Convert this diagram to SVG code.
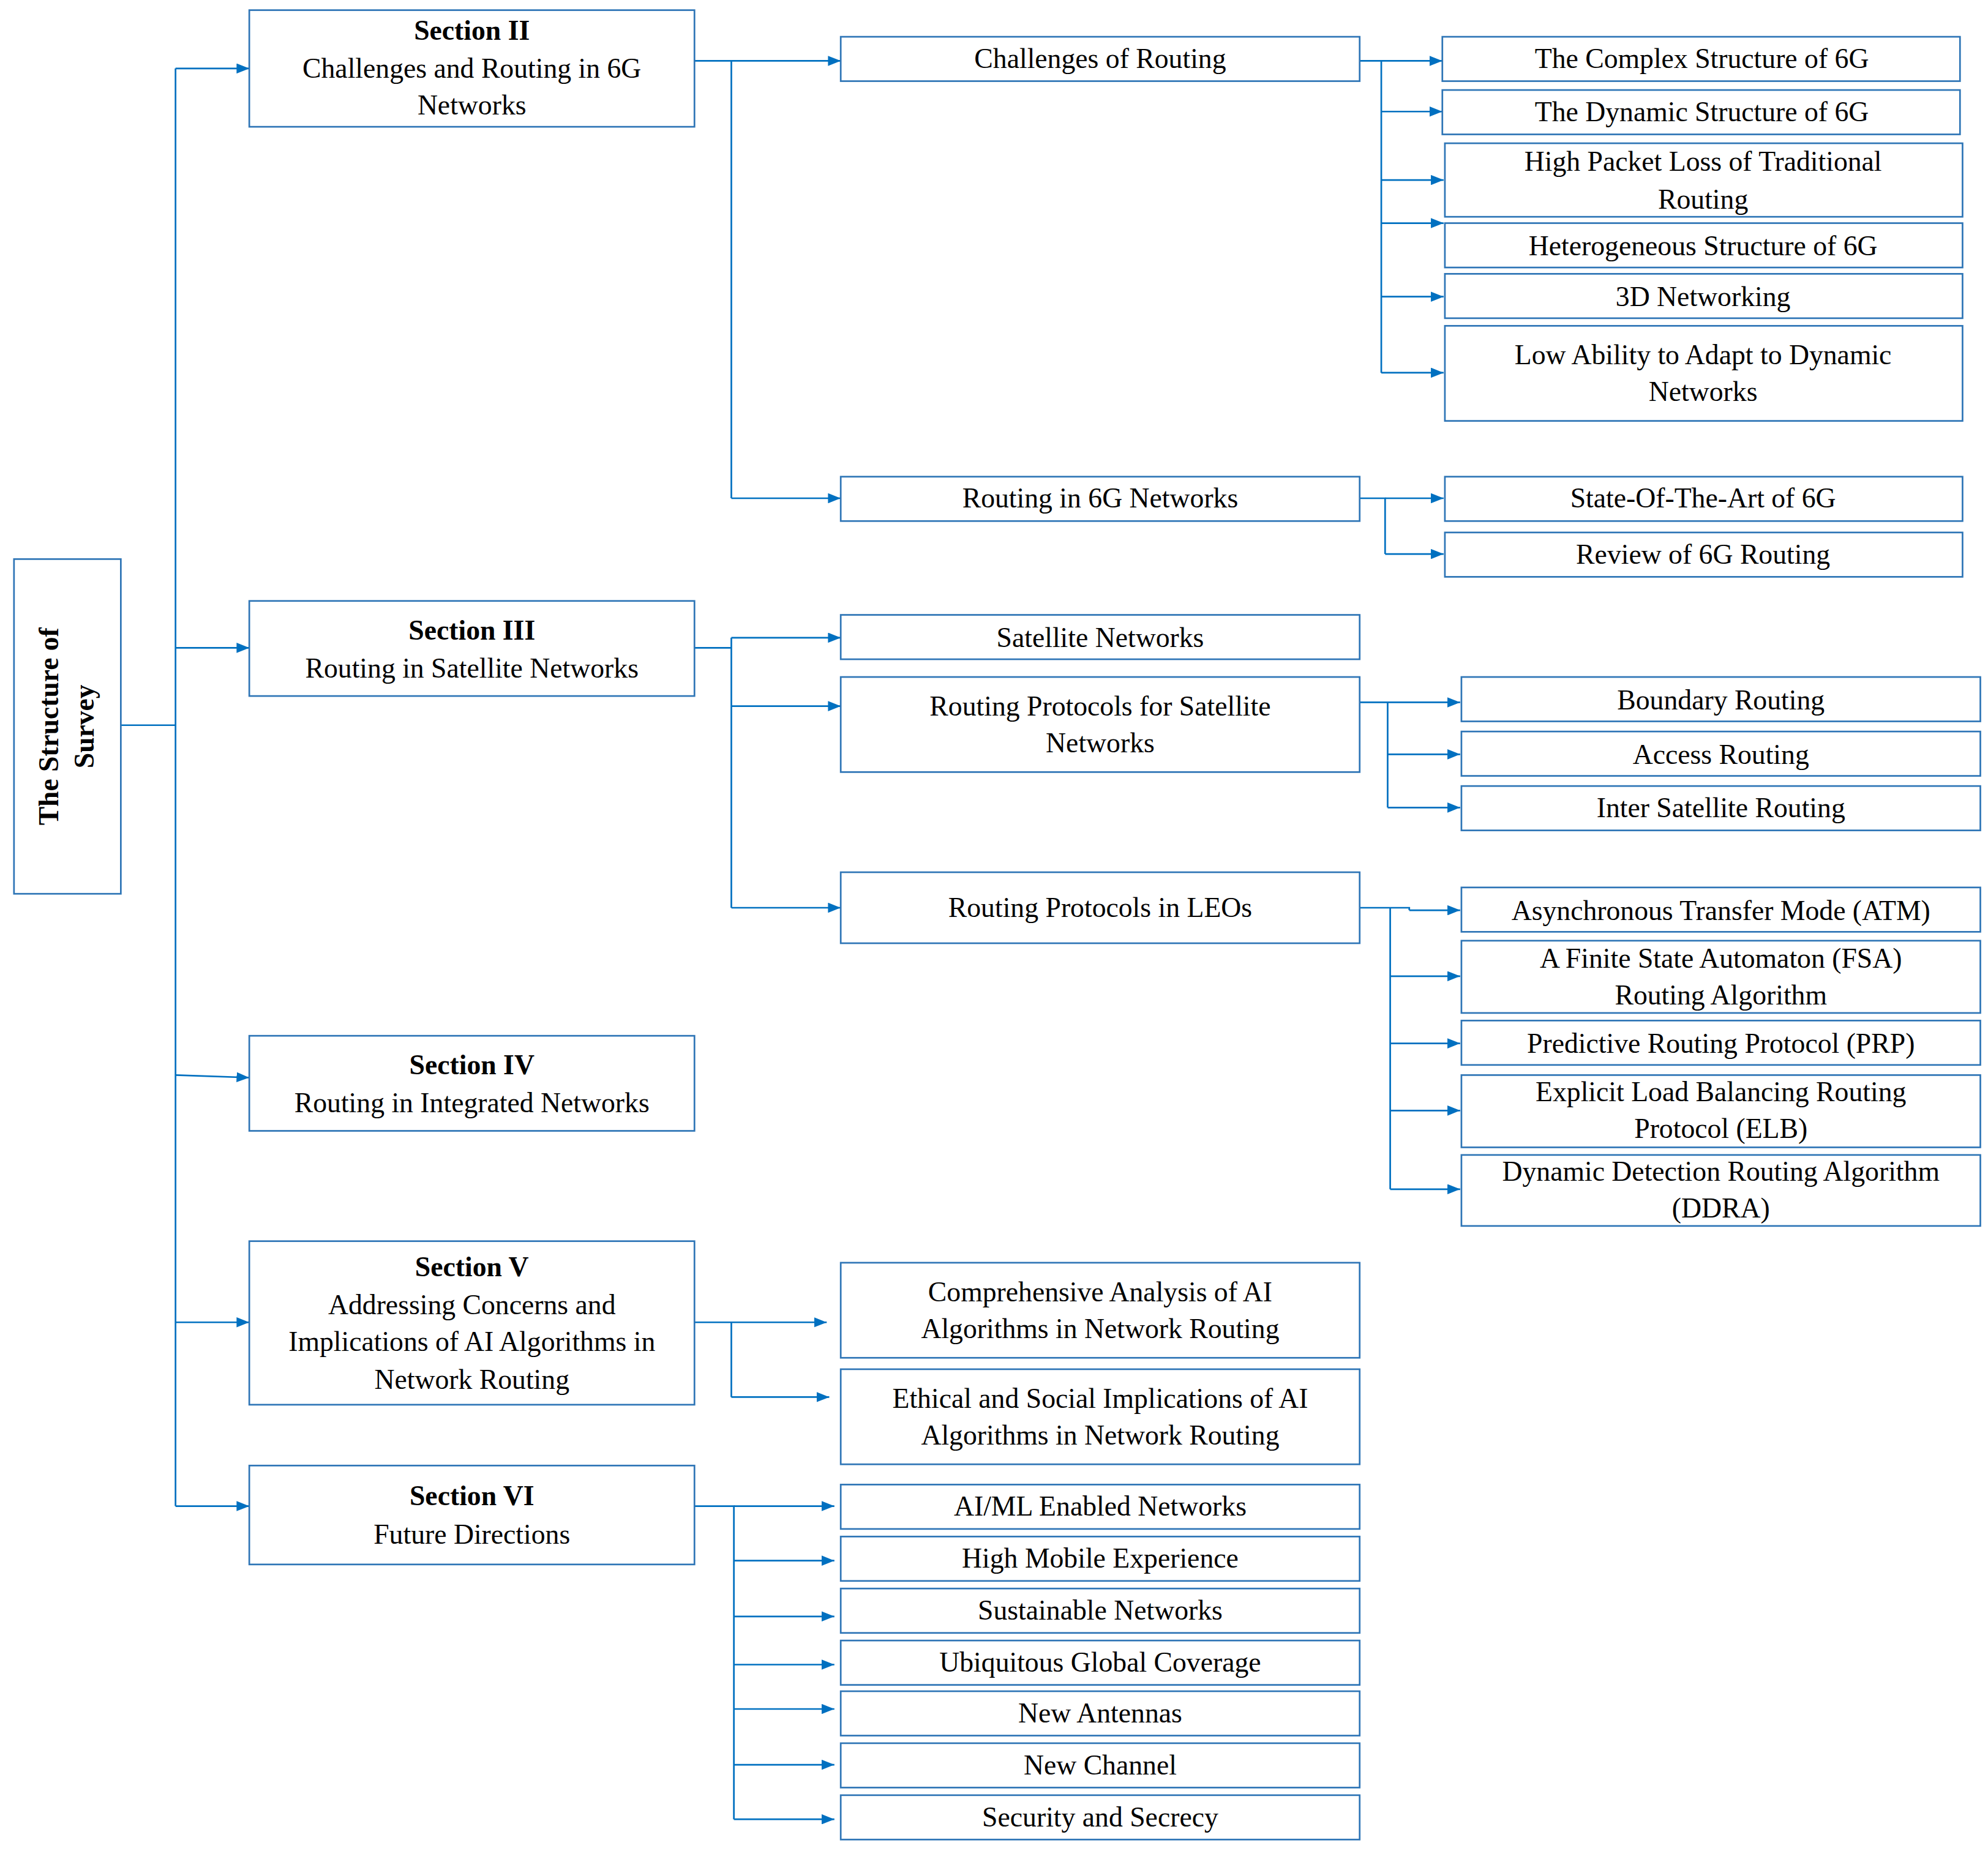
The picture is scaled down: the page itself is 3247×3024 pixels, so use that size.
<svg xmlns="http://www.w3.org/2000/svg" width="3247" height="3024" viewBox="0 0 3247 3024">
<style>
.b{fill:#fff;stroke:#2E75B6;stroke-width:1.3}
.c{fill:none;stroke:#0070C0;stroke-width:1.3}
.a{fill:none;stroke:#0070C0;stroke-width:1.3;marker-end:url(#m)}
text{font-family:"Liberation Serif","Times New Roman",serif;font-size:22px;fill:#000;text-anchor:middle;dominant-baseline:central}
.h{font-weight:bold}
</style>
<defs><marker id="m" markerWidth="10" markerHeight="8" refX="10" refY="4" orient="auto" markerUnits="userSpaceOnUse"><path d="M0,0 L10,4 L0,8 z" fill="#0070C0"/></marker></defs>
<rect width="3247" height="3024" fill="#fff"/>
<g transform="scale(2.0774,2.0712)">
<g id="connectors">
<path class="c" d="M95,572H138M138,54V1188"/>
<path class="a" d="M138,54H196"/><path class="a" d="M138,511H196"/><path class="a" d="M138,848L196,850"/><path class="a" d="M138,1043H196"/><path class="a" d="M138,1188H196"/>
<path class="c" d="M546,48H575V393"/><path class="a" d="M575,48H661"/><path class="a" d="M575,393H661"/>
<path class="c" d="M546,511H575M575,503V716"/><path class="a" d="M575,503H661"/><path class="a" d="M575,557H661"/><path class="a" d="M575,716H661"/>
<path class="c" d="M546,1043H575V1102"/><path class="a" d="M575,1043H650"/><path class="a" d="M575,1102H652"/>
<path class="c" d="M546,1188H577V1435"/>
<path class="a" d="M577,1188H656"/><path class="a" d="M577,1231H656"/><path class="a" d="M577,1275H656"/><path class="a" d="M577,1313H656"/><path class="a" d="M577,1348H656"/><path class="a" d="M577,1392H656"/><path class="a" d="M577,1435H656"/>
<path class="c" d="M1069,48H1086V294"/>
<path class="a" d="M1086,48H1134"/><path class="a" d="M1086,88H1134"/><path class="a" d="M1086,142H1135"/><path class="a" d="M1086,176H1135"/><path class="a" d="M1086,234H1135"/><path class="a" d="M1086,294H1135"/>
<path class="c" d="M1069,393H1089V437"/><path class="a" d="M1089,393H1135"/><path class="a" d="M1089,437H1135"/>
<path class="c" d="M1069,554H1091V637"/><path class="a" d="M1091,554H1148"/><path class="a" d="M1091,595H1148"/><path class="a" d="M1091,637H1148"/>
<path class="c" d="M1069,716H1108V718M1093,716V938"/><path class="a" d="M1108,718H1148"/>
<path class="a" d="M1093,770H1148"/><path class="a" d="M1093,823H1148"/><path class="a" d="M1093,876H1148"/><path class="a" d="M1093,938H1148"/>
</g>
<g id="root"><rect class="b" x="11" y="441" width="84" height="264"/>
<text class="h" transform="translate(52,573) rotate(-90)"><tspan x="0" y="-14">The Structure of</tspan><tspan x="0" y="14">Survey</tspan></text></g>
<g id="s2"><rect class="b" x="196" y="8" width="350" height="92"/><text class="h" x="371" y="24">Section II</text><text x="371" y="54">Challenges and Routing in 6G</text><text x="371" y="83">Networks</text></g>
<g id="s3"><rect class="b" x="196" y="474" width="350" height="75"/><text class="h" x="371" y="497">Section III</text><text x="371" y="527">Routing in Satellite Networks</text></g>
<g id="s4"><rect class="b" x="196" y="817" width="350" height="75"/><text class="h" x="371" y="840">Section IV</text><text x="371" y="870">Routing in Integrated Networks</text></g>
<g id="s5"><rect class="b" x="196" y="979" width="350" height="129"/><text class="h" x="371" y="999">Section V</text><text x="371" y="1029">Addressing Concerns and</text><text x="371" y="1058">Implications of AI Algorithms in</text><text x="371" y="1088">Network Routing</text></g>
<g id="s6"><rect class="b" x="196" y="1156" width="350" height="78"/><text class="h" x="371" y="1180">Section VI</text><text x="371" y="1210">Future Directions</text></g>
<g id="l2a"><rect class="b" x="661" y="29" width="408" height="35"/><text x="865" y="46">Challenges of Routing</text></g>
<g id="l2b"><rect class="b" x="661" y="376" width="408" height="35"/><text x="865" y="393">Routing in 6G Networks</text></g>
<g id="l2c"><rect class="b" x="661" y="485" width="408" height="35"/><text x="865" y="503">Satellite Networks</text></g>
<g id="l2d"><rect class="b" x="661" y="534" width="408" height="75"/><text x="865" y="557">Routing Protocols for Satellite</text><text x="865" y="586">Networks</text></g>
<g id="l2e"><rect class="b" x="661" y="688" width="408" height="56"/><text x="865" y="716">Routing Protocols in LEOs</text></g>
<g id="l2f"><rect class="b" x="661" y="996" width="408" height="75"/><text x="865" y="1019">Comprehensive Analysis of AI</text><text x="865" y="1048">Algorithms in Network Routing</text></g>
<g id="l2g"><rect class="b" x="661" y="1080" width="408" height="75"/><text x="865" y="1103">Ethical and Social Implications of AI</text><text x="865" y="1132">Algorithms in Network Routing</text></g>
<g id="f1"><rect class="b" x="661" y="1171" width="408" height="35"/><text x="865" y="1188">AI/ML Enabled Networks</text></g>
<g id="f2"><rect class="b" x="661" y="1212" width="408" height="35"/><text x="865" y="1229">High Mobile Experience</text></g>
<g id="f3"><rect class="b" x="661" y="1253" width="408" height="35"/><text x="865" y="1270">Sustainable Networks</text></g>
<g id="f4"><rect class="b" x="661" y="1294" width="408" height="35"/><text x="865" y="1311">Ubiquitous Global Coverage</text></g>
<g id="f5"><rect class="b" x="661" y="1334" width="408" height="35"/><text x="865" y="1351">New Antennas</text></g>
<g id="f6"><rect class="b" x="661" y="1375" width="408" height="35"/><text x="865" y="1392">New Channel</text></g>
<g id="f7"><rect class="b" x="661" y="1416" width="408" height="35"/><text x="865" y="1433">Security and Secrecy</text></g>
<g id="c1"><rect class="b" x="1134" y="29" width="407" height="35"/><text x="1338" y="46">The Complex Structure of 6G</text></g>
<g id="c2"><rect class="b" x="1134" y="71" width="407" height="35"/><text x="1338" y="88">The Dynamic Structure of 6G</text></g>
<g id="c3"><rect class="b" x="1136" y="113" width="407" height="58"/><text x="1339" y="127">High Packet Loss of Traditional</text><text x="1339" y="157">Routing</text></g>
<g id="c4"><rect class="b" x="1136" y="176" width="407" height="35"/><text x="1339" y="194">Heterogeneous Structure of 6G</text></g>
<g id="c5"><rect class="b" x="1136" y="216" width="407" height="35"/><text x="1339" y="234">3D Networking</text></g>
<g id="c6"><rect class="b" x="1136" y="257" width="407" height="75"/><text x="1339" y="280">Low Ability to Adapt to Dynamic</text><text x="1339" y="309">Networks</text></g>
<g id="r1"><rect class="b" x="1136" y="376" width="407" height="35"/><text x="1339" y="393">State-Of-The-Art of 6G</text></g>
<g id="r2"><rect class="b" x="1136" y="420" width="407" height="35"/><text x="1339" y="437">Review of 6G Routing</text></g>
<g id="p1"><rect class="b" x="1149" y="534" width="408" height="35"/><text x="1353" y="552">Boundary Routing</text></g>
<g id="p2"><rect class="b" x="1149" y="577" width="408" height="35"/><text x="1353" y="595">Access Routing</text></g>
<g id="p3"><rect class="b" x="1149" y="620" width="408" height="35"/><text x="1353" y="637">Inter Satellite Routing</text></g>
<g id="e1"><rect class="b" x="1149" y="700" width="408" height="35"/><text x="1353" y="718">Asynchronous Transfer Mode (ATM)</text></g>
<g id="e2"><rect class="b" x="1149" y="742" width="408" height="57"/><text x="1353" y="756">A Finite State Automaton (FSA)</text><text x="1353" y="785">Routing Algorithm</text></g>
<g id="e3"><rect class="b" x="1149" y="805" width="408" height="35"/><text x="1353" y="823">Predictive Routing Protocol (PRP)</text></g>
<g id="e4"><rect class="b" x="1149" y="848" width="408" height="57"/><text x="1353" y="861">Explicit Load Balancing Routing</text><text x="1353" y="890">Protocol (ELB)</text></g>
<g id="e5"><rect class="b" x="1149" y="911" width="408" height="56"/><text x="1353" y="924">Dynamic Detection Routing Algorithm</text><text x="1353" y="953">(DDRA)</text></g>
</g>
</svg>
